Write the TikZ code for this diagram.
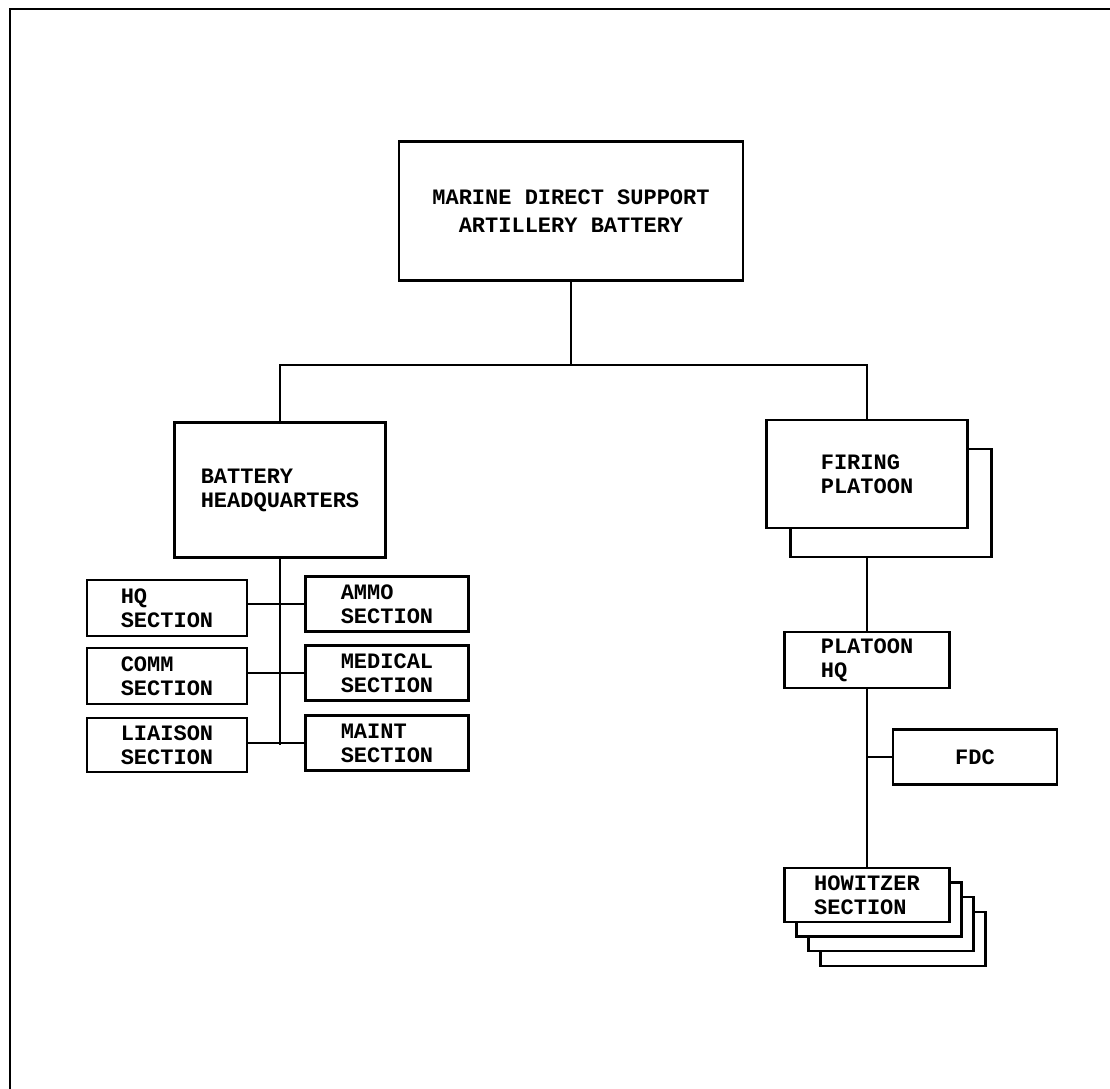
\documentclass[tikz,border=0pt]{standalone}
\usepackage{fontspec}
\setmonofont{Liberation Mono}
\usepackage{tikz}
\usetikzlibrary{shadows}

\tikzset{
 unit/.style={draw,line width=2.6pt,fill=white,align=left,inner sep=0pt,
  font=\ttfamily\bfseries\fontsize{22}{24}\selectfont},
 sect/.style={unit,minimum width=#1,minimum height=56pt},
 link/.style={line width=2.5pt},
}

\begin{document}
\begin{tikzpicture}[x=1pt,y=-1pt]
\useasboundingbox(0,0)rectangle(1110,1088);
\draw[line width=2.6pt](10,1095)|-(1115,9);
% battery and its two halves
\node[unit,align=center,minimum width=344pt,minimum height=139pt](mdsab)at(571,211){MARINE DIRECT SUPPORT\\[4pt]ARTILLERY BATTERY};
\coordinate(bus)at(571,365);
\node[unit,minimum width=211pt,minimum height=135pt](bhq)at(280,490){BATTERY\\HEADQUARTERS};
\node[unit,minimum width=201pt,minimum height=108pt,
 copy shadow={shadow xshift=24pt,shadow yshift=-29pt,draw=black,fill=white,opacity=1}](fp)at(867,474){FIRING\\PLATOON};
\draw[link](mdsab.south)--(bus);
\draw[link](bhq.north)|-(bus)-|(fp.north);
% headquarters sections
\node[sect=160pt](hq)at(167,608){HQ\\SECTION};
\node[sect=160pt](comm)at(167,676){COMM\\SECTION};
\node[sect=160pt,minimum height=54pt](liaison)at(167,745){LIAISON\\SECTION};
\node[sect=163pt,minimum height=55pt](ammo)at(387,604){AMMO\\SECTION};
\node[sect=163pt,minimum height=55pt](medical)at(387,673){MEDICAL\\SECTION};
\node[sect=163pt,minimum height=55pt](maint)at(387,743){MAINT\\SECTION};
\draw[link](bhq.south)--(bhq.south|-liaison.east);
\draw[link](hq.east|-ammo.west)--(ammo.west);
\draw[link](comm.east|-medical.west)--(medical.west);
\draw[link](liaison.east|-maint.west)--(maint.west);
% firing platoon
\coordinate(fpback)at([yshift=-29pt]fp.south);
\node[sect=165pt](phq)at(867,660){PLATOON\\HQ};
\node[sect=164pt,minimum height=55pt](fdc)at(975,757){FDC};
\node[sect=165pt,minimum height=54pt,
 copy shadow={shadow xshift=36pt,shadow yshift=-44pt,draw=black,fill=white,opacity=1},
 copy shadow={shadow xshift=24pt,shadow yshift=-29pt,draw=black,fill=white,opacity=1},
 copy shadow={shadow xshift=12pt,shadow yshift=-14.5pt,draw=black,fill=white,opacity=1}](how)at(867,895){HOWITZER\\SECTION};
\draw[link](fpback)--(phq.north);
\draw[link](phq.south)--(how.north);
\draw[link](fdc.west)--(fdc.west-|phq.south);
\end{tikzpicture}
\end{document}
